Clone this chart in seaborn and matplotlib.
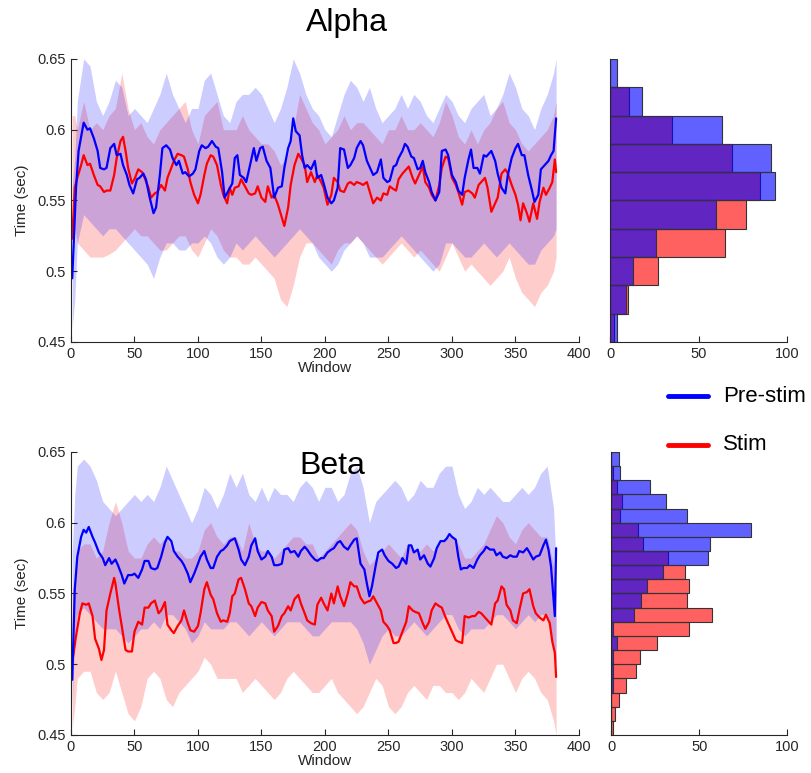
import numpy as np
import matplotlib
matplotlib.use("Agg")
import matplotlib.pyplot as plt
from matplotlib.lines import Line2D
from matplotlib.ticker import FuncFormatter
import seaborn as sns

# ---- data (window, seconds) ----
alpha_pre = [(1, 0.495), (4, 0.559), (6, 0.585), (10, 0.605), (13, 0.600), (15, 0.601), (18, 0.594), (21, 0.585),
             (23, 0.573), (26, 0.572), (28, 0.573), (31, 0.587), (34, 0.590), (36, 0.582), (39, 0.583), (41, 0.575),
             (44, 0.568), (46, 0.561), (49, 0.555), (52, 0.565), (54, 0.566), (57, 0.569), (59, 0.565), (62, 0.552),
             (65, 0.541), (67, 0.545), (70, 0.568), (72, 0.587), (75, 0.589), (78, 0.586), (80, 0.580), (83, 0.575),
             (85, 0.578), (88, 0.569), (90, 0.570), (93, 0.567), (96, 0.569), (98, 0.572), (101, 0.585), (103, 0.589),
             (106, 0.587), (108, 0.588), (111, 0.592), (114, 0.588), (116, 0.587), (119, 0.570), (121, 0.552),
             (124, 0.557), (127, 0.562), (129, 0.580), (131, 0.582), (133, 0.568), (136, 0.566), (138, 0.563),
             (141, 0.575), (144, 0.587), (146, 0.578), (149, 0.587), (151, 0.588), (154, 0.578), (157, 0.573),
             (159, 0.559), (160, 0.552), (163, 0.559), (166, 0.560), (168, 0.573), (171, 0.587), (173, 0.592),
             (175, 0.608), (177, 0.599), (180, 0.596), (182, 0.582), (184, 0.573), (186, 0.575), (189, 0.572),
             (192, 0.578), (194, 0.566), (197, 0.568), (199, 0.562), (202, 0.552), (205, 0.548), (207, 0.550),
             (210, 0.559), (212, 0.587), (215, 0.586), (218, 0.573), (220, 0.575), (223, 0.580), (225, 0.587),
             (228, 0.592), (230, 0.589), (233, 0.578), (236, 0.572), (238, 0.568), (241, 0.570), (244, 0.579),
             (246, 0.566), (249, 0.563), (251, 0.564), (254, 0.574), (256, 0.575), (258, 0.580), (261, 0.585),
             (263, 0.590), (265, 0.588), (268, 0.581), (270, 0.580), (273, 0.572), (275, 0.573), (277, 0.578),
             (279, 0.570), (282, 0.563), (284, 0.556), (287, 0.550), (290, 0.556), (292, 0.585), (295, 0.586),
             (297, 0.582), (300, 0.568), (303, 0.563), (305, 0.557), (308, 0.554), (310, 0.566), (313, 0.579),
             (315, 0.586), (317, 0.573), (320, 0.573), (322, 0.569), (325, 0.582), (327, 0.581), (331, 0.585),
             (334, 0.578), (336, 0.569), (339, 0.559), (342, 0.555), (344, 0.568), (347, 0.580), (350, 0.587),
             (352, 0.590), (355, 0.582), (357, 0.582), (360, 0.568), (363, 0.557), (365, 0.549), (368, 0.554),
             (370, 0.572), (373, 0.575), (376, 0.578), (378, 0.582), (380, 0.585), (382, 0.608)]

alpha_stim = [(1, 0.523), (3, 0.559), (5, 0.566), (8, 0.575), (10, 0.582), (13, 0.575), (15, 0.576), (18, 0.568),
              (21, 0.561), (23, 0.560), (26, 0.556), (28, 0.557), (31, 0.557), (34, 0.568), (36, 0.580), (39, 0.592),
              (41, 0.595), (43, 0.585), (45, 0.573), (48, 0.562), (50, 0.565), (53, 0.572), (56, 0.570), (58, 0.566),
              (61, 0.559), (63, 0.552), (66, 0.555), (68, 0.556), (71, 0.561), (74, 0.557), (76, 0.566), (79, 0.573),
              (81, 0.578), (84, 0.583), (87, 0.582), (89, 0.581), (92, 0.572), (94, 0.563), (97, 0.554), (100, 0.548),
              (102, 0.554), (105, 0.568), (107, 0.576), (110, 0.582), (112, 0.581), (115, 0.575), (118, 0.561),
              (120, 0.554), (123, 0.548), (125, 0.559), (127, 0.554), (129, 0.559), (132, 0.560), (134, 0.565),
              (137, 0.560), (140, 0.555), (142, 0.554), (145, 0.555), (147, 0.560), (150, 0.552), (153, 0.549),
              (155, 0.560), (158, 0.552), (160, 0.554), (163, 0.547), (166, 0.538), (168, 0.532), (171, 0.545),
              (173, 0.561), (176, 0.575), (179, 0.583), (181, 0.580), (184, 0.575), (186, 0.563), (189, 0.570),
              (192, 0.563), (194, 0.568), (197, 0.563), (199, 0.559), (202, 0.547), (205, 0.554), (207, 0.566),
              (210, 0.563), (212, 0.557), (215, 0.556), (218, 0.562), (220, 0.563), (223, 0.561), (225, 0.563),
              (228, 0.562), (230, 0.561), (233, 0.563), (236, 0.554), (238, 0.548), (241, 0.552), (244, 0.550),
              (246, 0.555), (249, 0.554), (251, 0.560), (254, 0.558), (256, 0.557), (258, 0.565), (261, 0.569),
              (264, 0.572), (266, 0.574), (269, 0.566), (271, 0.562), (274, 0.568), (277, 0.574), (279, 0.563),
              (282, 0.559), (284, 0.554), (287, 0.550), (290, 0.561), (292, 0.573), (295, 0.581), (297, 0.580),
              (300, 0.566), (303, 0.561), (305, 0.556), (308, 0.547), (310, 0.556), (313, 0.557), (316, 0.555),
              (318, 0.552), (321, 0.561), (323, 0.563), (326, 0.566), (328, 0.559), (331, 0.542), (334, 0.548),
              (336, 0.552), (339, 0.569), (342, 0.572), (344, 0.569), (347, 0.561), (350, 0.554), (352, 0.547),
              (354, 0.536), (356, 0.548), (359, 0.541), (361, 0.535), (364, 0.548), (367, 0.537), (369, 0.549),
              (372, 0.559), (374, 0.554), (377, 0.559), (379, 0.563), (381, 0.579), (382, 0.570)]

beta_pre = [(1, 0.489), (3, 0.553), (5, 0.576), (8, 0.590), (10, 0.595), (12, 0.593), (14, 0.597), (17, 0.590),
            (19, 0.586), (22, 0.579), (25, 0.575), (27, 0.570), (30, 0.575), (32, 0.571), (35, 0.574), (37, 0.570),
            (40, 0.563), (42, 0.557), (45, 0.563), (48, 0.563), (50, 0.564), (53, 0.561), (56, 0.567), (58, 0.573),
            (61, 0.573), (63, 0.568), (66, 0.567), (68, 0.568), (71, 0.576), (74, 0.586), (76, 0.590), (79, 0.587),
            (81, 0.580), (84, 0.576), (87, 0.573), (89, 0.570), (92, 0.564), (94, 0.558), (97, 0.564), (100, 0.571),
            (102, 0.576), (105, 0.580), (107, 0.574), (110, 0.568), (112, 0.568), (115, 0.576), (118, 0.580),
            (120, 0.581), (123, 0.584), (125, 0.587), (127, 0.588), (129, 0.589), (132, 0.581), (134, 0.574),
            (137, 0.570), (140, 0.576), (142, 0.584), (145, 0.589), (147, 0.580), (150, 0.574), (153, 0.576),
            (155, 0.580), (158, 0.576), (160, 0.570), (163, 0.570), (166, 0.571), (168, 0.581), (171, 0.582),
            (173, 0.579), (176, 0.580), (179, 0.576), (181, 0.580), (184, 0.583), (186, 0.581), (189, 0.577),
            (192, 0.574), (194, 0.573), (197, 0.575), (199, 0.575), (202, 0.579), (205, 0.581), (207, 0.582),
            (210, 0.586), (212, 0.587), (215, 0.583), (218, 0.581), (220, 0.584), (223, 0.588), (225, 0.589),
            (228, 0.571), (231, 0.567), (233, 0.557), (235, 0.548), (237, 0.555), (240, 0.570), (242, 0.579),
            (245, 0.581), (247, 0.577), (250, 0.573), (253, 0.571), (256, 0.568), (258, 0.569), (261, 0.575),
            (264, 0.571), (266, 0.584), (268, 0.584), (270, 0.579), (273, 0.581), (275, 0.574), (278, 0.577),
            (281, 0.571), (283, 0.569), (286, 0.575), (288, 0.582), (291, 0.587), (294, 0.587), (296, 0.589),
            (298, 0.592), (300, 0.590), (303, 0.588), (305, 0.576), (307, 0.567), (309, 0.568), (312, 0.568),
            (314, 0.570), (317, 0.568), (320, 0.574), (322, 0.577), (325, 0.580), (327, 0.583), (330, 0.581),
            (333, 0.581), (335, 0.577), (338, 0.579), (340, 0.576), (343, 0.575), (346, 0.577), (348, 0.576),
            (351, 0.576), (353, 0.580), (356, 0.579), (359, 0.582), (361, 0.579), (364, 0.574), (366, 0.576),
            (369, 0.577), (372, 0.584), (374, 0.588), (376, 0.581), (378, 0.569), (379, 0.557), (381, 0.534),
            (382, 0.582)]

beta_stim = [(1, 0.501), (4, 0.520), (7, 0.536), (9, 0.543), (12, 0.542), (14, 0.543), (17, 0.534), (19, 0.518),
             (22, 0.511), (24, 0.503), (26, 0.510), (28, 0.538), (31, 0.550), (34, 0.561), (35, 0.557), (38, 0.538),
             (40, 0.527), (43, 0.510), (45, 0.509), (48, 0.509), (50, 0.523), (53, 0.530), (56, 0.528), (58, 0.540),
             (61, 0.540), (63, 0.543), (66, 0.545), (69, 0.536), (71, 0.538), (74, 0.544), (76, 0.528), (79, 0.524),
             (81, 0.522), (84, 0.527), (87, 0.531), (89, 0.538), (92, 0.529), (94, 0.524), (97, 0.523), (100, 0.527),
             (102, 0.536), (105, 0.553), (107, 0.558), (110, 0.549), (112, 0.546), (115, 0.536), (118, 0.530),
             (120, 0.531), (123, 0.530), (125, 0.536), (127, 0.548), (129, 0.550), (132, 0.560), (134, 0.561),
             (137, 0.553), (140, 0.543), (142, 0.541), (145, 0.534), (147, 0.540), (150, 0.544), (153, 0.543),
             (155, 0.538), (158, 0.534), (160, 0.523), (163, 0.527), (166, 0.534), (168, 0.536), (171, 0.541),
             (173, 0.538), (176, 0.546), (179, 0.549), (181, 0.543), (184, 0.536), (186, 0.531), (189, 0.529),
             (192, 0.528), (194, 0.542), (197, 0.547), (199, 0.543), (202, 0.538), (205, 0.550), (207, 0.543),
             (210, 0.555), (212, 0.548), (215, 0.541), (218, 0.550), (220, 0.558), (223, 0.555), (225, 0.555),
             (228, 0.547), (231, 0.543), (233, 0.544), (236, 0.545), (238, 0.548), (241, 0.543), (244, 0.538),
             (246, 0.530), (249, 0.527), (251, 0.524), (254, 0.515), (256, 0.515), (258, 0.516), (261, 0.523),
             (264, 0.530), (266, 0.541), (269, 0.538), (271, 0.537), (274, 0.536), (277, 0.529), (279, 0.525),
             (282, 0.530), (284, 0.538), (287, 0.543), (290, 0.541), (292, 0.540), (295, 0.533), (297, 0.529),
             (300, 0.523), (303, 0.517), (305, 0.516), (308, 0.515), (310, 0.534), (313, 0.533), (316, 0.534),
             (318, 0.534), (321, 0.537), (323, 0.536), (326, 0.533), (329, 0.530), (331, 0.528), (334, 0.543),
             (336, 0.545), (339, 0.555), (341, 0.553), (343, 0.542), (346, 0.538), (348, 0.531), (351, 0.529),
             (353, 0.538), (356, 0.550), (359, 0.551), (361, 0.553), (364, 0.541), (366, 0.536), (369, 0.533),
             (372, 0.531), (374, 0.535), (377, 0.529), (379, 0.516), (381, 0.508), (382, 0.491)]

# shaded spread (upper / lower edge) on a coarse window grid
band_x = [1, 3, 5, 10, 15, 20, 25, 30, 35, 40, 45, 50, 55, 60, 65, 70, 75, 80, 85, 90, 95, 100, 105, 110, 115,
          120, 125, 130, 135, 140, 145, 150, 155, 160, 165, 170, 175, 180, 185, 190, 195, 200, 205, 210, 215,
          220, 225, 230, 235, 240, 245, 250, 255, 260, 265, 270, 275, 280, 285, 290, 295, 300, 305, 310, 315,
          320, 325, 330, 335, 340, 345, 350, 355, 360, 365, 370, 375, 380, 382]

alpha_pre_hi = [0.56, 0.58, 0.62, 0.65, 0.645, 0.62, 0.61, 0.62, 0.635, 0.63, 0.61, 0.615, 0.61, 0.605, 0.615,
                0.625, 0.64, 0.625, 0.615, 0.605, 0.615, 0.615, 0.635, 0.64, 0.625, 0.61, 0.605,
                0.62, 0.625, 0.625, 0.63, 0.625, 0.615, 0.605, 0.615, 0.63, 0.65, 0.64, 0.625, 0.615, 0.61, 0.60,
                0.595, 0.61, 0.625, 0.635, 0.63, 0.62, 0.63, 0.615, 0.605, 0.61, 0.615,
                0.625, 0.615, 0.625, 0.62, 0.61, 0.605, 0.615, 0.625, 0.62, 0.61, 0.605, 0.615, 0.62, 0.625, 0.61,
                0.615, 0.625, 0.64, 0.63, 0.615, 0.61, 0.60, 0.615, 0.625, 0.64, 0.65]
alpha_pre_lo = [0.46, 0.48, 0.52, 0.54, 0.535, 0.53, 0.525, 0.53, 0.53, 0.525, 0.52, 0.515, 0.51, 0.505, 0.495,
                0.51, 0.52, 0.52, 0.515, 0.515, 0.52, 0.52, 0.525, 0.52, 0.51, 0.505, 0.51,
                0.52, 0.515, 0.52, 0.525, 0.52, 0.515, 0.51, 0.515, 0.52, 0.525, 0.53, 0.525, 0.52, 0.51, 0.505,
                0.50, 0.505, 0.515, 0.52, 0.525, 0.52, 0.51, 0.51, 0.51, 0.515, 0.52,
                0.525, 0.52, 0.515, 0.51, 0.505, 0.50, 0.505, 0.52, 0.52, 0.515, 0.51, 0.51, 0.515, 0.52, 0.515,
                0.51, 0.515, 0.52, 0.515, 0.51, 0.505, 0.505, 0.515, 0.52, 0.525, 0.53]
alpha_stim_hi = [0.61, 0.61, 0.60, 0.62, 0.60, 0.605, 0.60, 0.61, 0.615, 0.64, 0.615, 0.60, 0.605, 0.595, 0.59,
                 0.60, 0.605, 0.61, 0.615, 0.62, 0.60, 0.59, 0.61, 0.615, 0.62, 0.60, 0.60,
                 0.60, 0.61, 0.60, 0.595, 0.59, 0.59, 0.585, 0.575, 0.58, 0.60, 0.625, 0.615, 0.605, 0.60, 0.59,
                 0.595, 0.60, 0.61, 0.60, 0.605, 0.605, 0.60, 0.595, 0.59, 0.60, 0.60,
                 0.61, 0.60, 0.60, 0.605, 0.60, 0.595, 0.605, 0.62, 0.61, 0.595, 0.59, 0.60, 0.59, 0.60, 0.605,
                 0.615, 0.62, 0.605, 0.60, 0.59, 0.585, 0.59, 0.595, 0.60, 0.61, 0.62]
alpha_stim_lo = [0.50, 0.53, 0.52, 0.515, 0.51, 0.51, 0.51, 0.512, 0.515, 0.52, 0.525, 0.53, 0.525, 0.525, 0.52,
                 0.515, 0.515, 0.52, 0.525, 0.525, 0.515, 0.51, 0.52, 0.53, 0.525, 0.515, 0.51,
                 0.51, 0.505, 0.505, 0.51, 0.505, 0.50, 0.495, 0.48, 0.475, 0.49, 0.51, 0.52, 0.52, 0.515, 0.51,
                 0.505, 0.515, 0.52, 0.52, 0.525, 0.52, 0.515, 0.51, 0.505, 0.51, 0.515,
                 0.52, 0.515, 0.51, 0.515, 0.51, 0.505, 0.50, 0.51, 0.52, 0.51, 0.50, 0.505, 0.50, 0.495, 0.49,
                 0.495, 0.50, 0.51, 0.495, 0.485, 0.48, 0.475, 0.485, 0.49, 0.50, 0.51]

beta_pre_hi = [0.58, 0.62, 0.64, 0.645, 0.64, 0.63, 0.615, 0.61, 0.605, 0.61, 0.615, 0.62, 0.615, 0.62, 0.615,
               0.625, 0.64, 0.63, 0.62, 0.61, 0.60, 0.61, 0.625, 0.62, 0.61, 0.62, 0.635,
               0.625, 0.635, 0.62, 0.615, 0.625, 0.615, 0.625, 0.62, 0.62, 0.615, 0.625, 0.63, 0.625, 0.615, 0.625,
               0.625, 0.615, 0.62, 0.635, 0.64, 0.625, 0.60, 0.615, 0.62, 0.625, 0.63,
               0.625, 0.615, 0.62, 0.63, 0.625, 0.625, 0.635, 0.64, 0.64, 0.62, 0.61, 0.615, 0.625, 0.62, 0.625,
               0.62, 0.615, 0.615, 0.62, 0.625, 0.62, 0.625, 0.635, 0.64, 0.61, 0.57]
beta_pre_lo = [0.47, 0.52, 0.535, 0.54, 0.535, 0.53, 0.525, 0.525, 0.525, 0.52, 0.515, 0.52, 0.525, 0.525, 0.53,
               0.525, 0.535, 0.535, 0.53, 0.525, 0.515, 0.52, 0.53, 0.525, 0.525, 0.525, 0.53,
               0.53, 0.525, 0.52, 0.525, 0.53, 0.525, 0.52, 0.525, 0.53, 0.53, 0.53, 0.525, 0.52, 0.52, 0.525,
               0.53, 0.53, 0.53, 0.53, 0.525, 0.515, 0.50, 0.51, 0.52, 0.525, 0.52,
               0.52, 0.525, 0.53, 0.525, 0.52, 0.525, 0.53, 0.535, 0.535, 0.525, 0.52, 0.525, 0.525, 0.525, 0.53,
               0.535, 0.535, 0.53, 0.525, 0.53, 0.535, 0.53, 0.535, 0.535, 0.51, 0.50]
beta_stim_hi = [0.55, 0.56, 0.58, 0.585, 0.585, 0.575, 0.58, 0.60, 0.615, 0.60, 0.58, 0.575, 0.575, 0.585, 0.59,
                0.585, 0.59, 0.58, 0.58, 0.575, 0.575, 0.58, 0.595, 0.60, 0.59, 0.585, 0.59,
                0.59, 0.58, 0.60, 0.585, 0.58, 0.58, 0.575, 0.58, 0.585, 0.59, 0.59, 0.585, 0.585, 0.575, 0.58,
                0.585, 0.59, 0.595, 0.60, 0.595, 0.58, 0.57, 0.575, 0.58, 0.585, 0.58,
                0.575, 0.585, 0.58, 0.58, 0.585, 0.58, 0.585, 0.59, 0.59, 0.585, 0.575, 0.575, 0.58, 0.585, 0.595,
                0.605, 0.60, 0.59, 0.585, 0.595, 0.60, 0.595, 0.59, 0.59, 0.57, 0.55]
beta_stim_lo = [0.455, 0.47, 0.49, 0.495, 0.495, 0.48, 0.475, 0.48, 0.495, 0.48, 0.465, 0.46, 0.47, 0.49, 0.495,
                0.49, 0.475, 0.47, 0.48, 0.485, 0.49, 0.495, 0.505, 0.50, 0.49, 0.49, 0.49,
                0.49, 0.48, 0.485, 0.49, 0.485, 0.48, 0.475, 0.48, 0.49, 0.495, 0.49, 0.485, 0.48, 0.48, 0.485,
                0.49, 0.48, 0.475, 0.47, 0.465, 0.47, 0.48, 0.49, 0.485, 0.47, 0.465,
                0.47, 0.48, 0.485, 0.48, 0.475, 0.485, 0.485, 0.48, 0.48, 0.475, 0.48, 0.49, 0.485, 0.48, 0.49,
                0.50, 0.50, 0.49, 0.48, 0.49, 0.495, 0.49, 0.48, 0.475, 0.46, 0.45]

# histogram counts, lowest bin first
alpha_edges = [0.45, 0.47, 0.49, 0.51, 0.53, 0.55, 0.57, 0.59, 0.61, 0.63, 0.65]
alpha_pre_counts = [4, 9, 13, 26, 60, 93, 91, 63, 18, 4]
alpha_stim_counts = [2, 10, 27, 65, 77, 85, 69, 35, 11, 0]

beta_edges = [0.45, 0.46, 0.47, 0.48, 0.49, 0.50, 0.51, 0.52, 0.53, 0.54, 0.55,
              0.56, 0.57, 0.58, 0.59, 0.60, 0.61, 0.62, 0.63, 0.64, 0.65]
beta_pre_counts = [0, 0, 0, 1, 1, 1, 3, 1, 13, 17, 20, 29, 55, 56, 79, 43, 31, 22, 5, 4]
beta_stim_counts = [1, 2, 4, 8, 14, 16, 26, 44, 57, 43, 44, 42, 32, 18, 15, 5, 6, 3, 1, 0]

PRE_COLOR = "#0000ff"
STIM_COLOR = "#ff0000"
TEXT_COLOR = "#262626"

sns.set_style("ticks")
plt.rcParams["font.family"] = ["Liberation Sans", "DejaVu Sans"]
plt.rcParams["xtick.direction"] = "in"
plt.rcParams["ytick.direction"] = "in"
plt.rcParams["axes.edgecolor"] = TEXT_COLOR
plt.rcParams["xtick.color"] = TEXT_COLOR
plt.rcParams["ytick.color"] = TEXT_COLOR
plt.rcParams["text.color"] = TEXT_COLOR
plt.rcParams["axes.labelcolor"] = TEXT_COLOR


def draw_lines(ax, pre, stim, pre_hi, pre_lo, stim_hi, stim_lo):
    ax.fill_between(band_x, stim_lo, stim_hi, color=STIM_COLOR, alpha=0.2, linewidth=0)
    ax.fill_between(band_x, pre_lo, pre_hi, color=PRE_COLOR, alpha=0.2, linewidth=0)
    sx, sy = zip(*stim)
    px, py = zip(*pre)
    sns.lineplot(x=list(sx), y=list(sy), ax=ax, color=STIM_COLOR, linewidth=1.6, estimator=None)
    sns.lineplot(x=list(px), y=list(py), ax=ax, color=PRE_COLOR, linewidth=1.6, estimator=None)
    ax.set_xlim(0, 400)
    ax.set_ylim(0.45, 0.65)
    ax.set_xticks([0, 50, 100, 150, 200, 250, 300, 350, 400])
    ax.set_yticks([0.45, 0.5, 0.55, 0.6, 0.65])
    ax.yaxis.set_major_formatter(FuncFormatter(lambda v, p: "%g" % round(v, 3)))
    ax.set_xlabel("Window", fontsize=11, labelpad=0)
    ax.set_ylabel("Time (sec)", fontsize=11, labelpad=6)
    ax.tick_params(labelsize=10.5, length=4, width=0.8)
    sns.despine(ax=ax)


def draw_hist(ax, edges, pre_counts, stim_counts):
    centers = [(a + b) / 2 for a, b in zip(edges[:-1], edges[1:])]
    sns.histplot(y=centers, weights=stim_counts, bins=edges, ax=ax, color=STIM_COLOR,
                 alpha=0.62, edgecolor="#333333", linewidth=0.8)
    sns.histplot(y=centers, weights=pre_counts, bins=edges, ax=ax, color=PRE_COLOR,
                 alpha=0.62, edgecolor="#333333", linewidth=0.8)
    ax.set_xlim(0, 100)
    ax.set_ylim(0.45, 0.65)
    ax.set_xticks([0, 50, 100])
    ax.set_yticks([])
    ax.set_xlabel("")
    ax.set_ylabel("")
    ax.tick_params(labelsize=10.5, length=4, width=0.8)
    sns.despine(ax=ax)


fig = plt.figure(figsize=(8.11, 7.73), dpi=100)

ax_a = fig.add_axes([0.0875, 0.5576, 0.6264, 0.3661])
ax_ah = fig.add_axes([0.7522, 0.5576, 0.2182, 0.3661])
ax_b = fig.add_axes([0.0875, 0.0492, 0.6264, 0.3661])
ax_bh = fig.add_axes([0.7540, 0.0492, 0.2170, 0.3661])

draw_lines(ax_a, alpha_pre, alpha_stim, alpha_pre_hi, alpha_pre_lo, alpha_stim_hi, alpha_stim_lo)
draw_lines(ax_b, beta_pre, beta_stim, beta_pre_hi, beta_pre_lo, beta_stim_hi, beta_stim_lo)
draw_hist(ax_ah, alpha_edges, alpha_pre_counts, alpha_stim_counts)
draw_hist(ax_bh, beta_edges, beta_pre_counts, beta_stim_counts)

fig.text(347 / 811, 1 - 23 / 773, "Alpha", fontsize=23, ha="center", va="center", color="black")
fig.text(332 / 811, 1 - 466 / 773, "Beta", fontsize=23, ha="center", va="center", color="black")

# legend between the two rows
for y_px, label, col in [(396, "Pre-stim", PRE_COLOR), (445, "Stim", STIM_COLOR)]:
    yf = 1 - y_px / 773
    fig.add_artist(Line2D([668 / 811, 708 / 811], [yf, yf], transform=fig.transFigure,
                          color=col, linewidth=3.5))
    fig.text(723 / 811, yf, label, fontsize=16, ha="left", va="center", color="black")

fig.savefig("out.png", dpi=100)
